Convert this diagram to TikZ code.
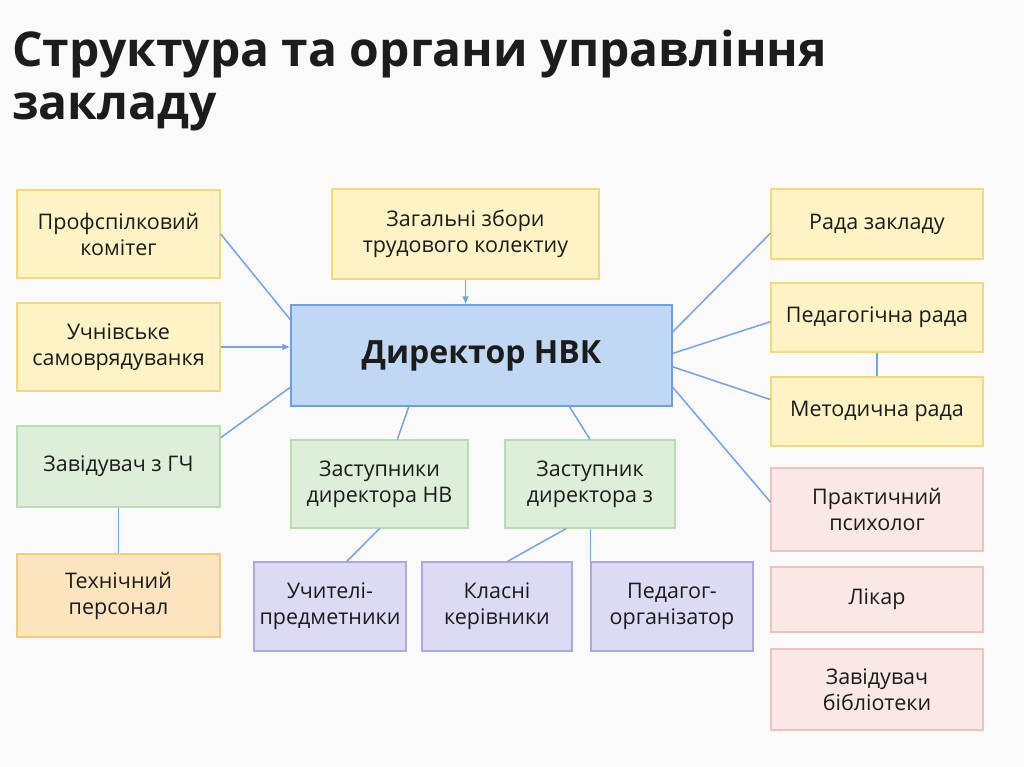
\documentclass[tikz,border=0pt]{standalone}
\usepackage{fontspec}
\setmainfont{Open Sans}
\usetikzlibrary{calc,arrows.meta}
\definecolor{bg}{HTML}{FAFAFA}
\definecolor{txt}{HTML}{1C1C1C}
\definecolor{yfill}{HTML}{FDF3C4}
\definecolor{yline}{HTML}{F5D77E}
\definecolor{bfill}{HTML}{C0D8F4}
\definecolor{bline}{HTML}{6E9FE6}
\definecolor{gfill}{HTML}{DDEFD9}
\definecolor{gline}{HTML}{B7DDB0}
\definecolor{ofill}{HTML}{FCE5BD}
\definecolor{oline}{HTML}{F5CB82}
\definecolor{pfill}{HTML}{DCDBF6}
\definecolor{pline}{HTML}{ABA9DE}
\definecolor{rfill}{HTML}{FAE8E6}
\definecolor{rline}{HTML}{EEC3BE}
\definecolor{lc}{HTML}{74A3E6}
\begin{document}
\begin{tikzpicture}[x=1pt,y=-1pt,
  box/.style={draw, line width=1.3pt, inner sep=0pt, align=center, text=txt,
    font=\fontsize{21.5}{26}\selectfont},
  yb/.style={box, fill=yfill, draw=yline},
  bb/.style={box, fill=bfill, draw=bline},
  gb/.style={box, fill=gfill, draw=gline},
  ob/.style={box, fill=ofill, draw=oline},
  pb/.style={box, fill=pfill, draw=pline},
  rb/.style={box, fill=rfill, draw=rline},
  conn/.style={draw=lc, line width=1.5pt},
  arr/.style={conn, -{Latex[length=8pt,width=7pt]}},
  ttl/.style={anchor=base west, inner sep=0pt, text=txt, font=\fontsize{48}{52}\selectfont\bfseries}]
\fill[bg] (0,0) rectangle (1024,767);
\useasboundingbox (0,0) rectangle (1024,767);

\node[ttl] (t1) at (12,67) {Структура та органи управління};
\node[ttl] (t2) at (12,120) {закладу};

\node[yb, minimum width=203, minimum height=88] (prof) at (118.5,234) {Профспілковий\\комітег};
\node[yb, minimum width=203, minimum height=88] (uchn) at (118.5,347) {Учнівське\\самоврядуванкя};
\node[gb, minimum width=203, minimum height=81] (zavg) at (118.5,466.5) {Завідувач з ГЧ};
\node[ob, minimum width=203, minimum height=83] (tech) at (118.5,595.5) {Технічний\\персонал};

\node[yb, minimum width=267, minimum height=90] (zbory) at (465.5,234) {Загальні збори\\трудового колектиу};
\node[bb, minimum width=381, minimum height=101, font=\fontsize{32}{36}\selectfont\bfseries] (dir) at (481.5,355.5) {Директор НВК};

\node[yb, minimum width=212, minimum height=70] (rada) at (877,224) {Рада закладу};
\node[yb, minimum width=212, minimum height=69] (pedr) at (877,317.5) {Педагогічна рада};
\node[yb, minimum width=212, minimum height=69] (metr) at (877,411.5) {Методична рада};
\node[rb, minimum width=212, minimum height=83] (psych) at (877,509.5) {Практичний\\психолог};
\node[rb, minimum width=212, minimum height=65] (likar) at (877,599.5) {Лікар};
\node[rb, minimum width=212, minimum height=81] (bibl) at (877,689.5) {Завідувач\\бібліотеки};

\node[gb, minimum width=177, minimum height=88] (zastnv) at (379.5,484) {Заступники\\директора НВ};
\node[gb, minimum width=170, minimum height=88] (zastz) at (590,484) {Заступник\\директора з};
\node[pb, minimum width=152, minimum height=89] (uchyt) at (330,606.5) {Учителі-\\предметники};
\node[pb, minimum width=150, minimum height=89] (klasni) at (497,606.5) {Класні\\керівники};
\node[pb, minimum width=162, minimum height=89] (pedorg) at (672,606.5) {Педагог-\\організатор};

% left side
\draw[conn] (prof.east) -- ($(dir.north west)!0.15!(dir.south west)$);
\draw[arr] (uchn.east) -- (dir.west |- uchn.east);
\draw[conn] ($(zavg.north east)!0.15!(zavg.south east)$) -- ($(dir.north west)!0.81!(dir.south west)$);
\draw[conn] (zavg.south) -- (tech.north);
% top
\draw[arr] (zbory.south) -- (zbory.south |- dir.north);
% right side
\draw[conn] ($(dir.north east)!0.27!(dir.south east)$) -- ($(rada.north west)!0.63!(rada.south west)$);
\draw[conn] ($(dir.north east)!0.48!(dir.south east)$) -- ($(pedr.north west)!0.56!(pedr.south west)$);
\draw[conn] ($(dir.north east)!0.61!(dir.south east)$) -- ($(metr.north west)!0.33!(metr.south west)$);
\draw[conn] ($(dir.north east)!0.81!(dir.south east)$) -- ($(psych.north west)!0.41!(psych.south west)$);
\draw[conn] (pedr.south) -- (metr.north);
% bottom
\draw[conn] ($(dir.south west)!0.31!(dir.south east)$) -- ($(zastnv.north west)!0.6!(zastnv.north east)$);
\draw[conn] ($(dir.south west)!0.73!(dir.south east)$) -- (zastz.north);
\draw[conn] (zastnv.south) -- ($(uchyt.north west)!0.61!(uchyt.north east)$);
\draw[conn] ($(zastz.south west)!0.36!(zastz.south east)$) -- ($(klasni.north west)!0.57!(klasni.north east)$);
\draw[conn] (zastz.south west -| pedorg.north west) -- (pedorg.north west);
\end{tikzpicture}
\end{document}
